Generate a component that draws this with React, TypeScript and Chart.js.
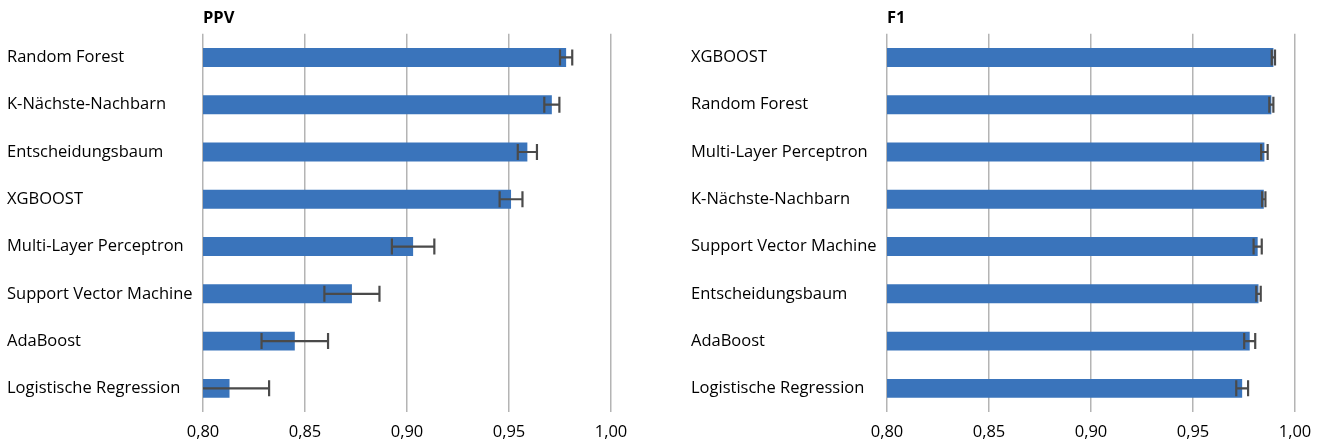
import React, { useEffect, useRef } from "react";
import { Chart, registerables } from "chart.js";

Chart.register(...registerables);

const ppvLabels = [
  "Random Forest",
  "K-Nächste-Nachbarn",
  "Entscheidungsbaum",
  "XGBOOST",
  "Multi-Layer Perceptron",
  "Support Vector Machine",
  "AdaBoost",
  "Logistische Regression",
];
const ppvValues = [0.978, 0.971, 0.959, 0.951, 0.903, 0.873, 0.845, 0.813];
const ppvErrors = [0.003, 0.0037, 0.0047, 0.0056, 0.0104, 0.0135, 0.0163, 0.0194];

const f1Labels = [
  "XGBOOST",
  "Random Forest",
  "Multi-Layer Perceptron",
  "K-Nächste-Nachbarn",
  "Support Vector Machine",
  "Entscheidungsbaum",
  "AdaBoost",
  "Logistische Regression",
];
const f1Values = [0.9894, 0.9884, 0.985, 0.9847, 0.9817, 0.9821, 0.9778, 0.9741];
const f1Errors = [0.0008, 0.001, 0.0016, 0.0008, 0.002, 0.0011, 0.0027, 0.0029];

const xTickValues = [0.8, 0.85, 0.9, 0.95, 1.0];

const FONT = "'Open Sans', 'Noto Sans', sans-serif";
const BAR_COLOR = "#3a74bb";

const errorBarPlugin = {
  id: "errorBars",
  afterDatasetsDraw(chart: any, _args: any, opts: any) {
    const errors: number[] = opts.errors || [];
    const meta = chart.getDatasetMeta(0);
    const xScale = chart.scales.x;
    const area = chart.chartArea;
    const ctx = chart.ctx;
    const values = chart.data.datasets[0].data as number[];
    ctx.save();
    ctx.beginPath();
    ctx.rect(area.left, area.top, area.right - area.left, area.bottom - area.top);
    ctx.clip();
    ctx.strokeStyle = "#4a4a4a";
    ctx.lineWidth = 2.2;
    meta.data.forEach((bar: any, i: number) => {
      const e = errors[i] || 0;
      const x1 = xScale.getPixelForValue(values[i] - e);
      const x2 = xScale.getPixelForValue(values[i] + e);
      const y = bar.y;
      const cap = 8;
      ctx.beginPath();
      ctx.moveTo(x1, y);
      ctx.lineTo(x2, y);
      ctx.moveTo(x1, y - cap);
      ctx.lineTo(x1, y + cap);
      ctx.moveTo(x2, y - cap);
      ctx.lineTo(x2, y + cap);
      ctx.stroke();
    });
    ctx.restore();
  },
};

function BarPanel(props: {
  title: string;
  labels: string[];
  values: number[];
  errors: number[];
  padLeft: number;
  padRight: number;
}) {
  const ref = useRef<HTMLCanvasElement | null>(null);
  useEffect(() => {
    if (!ref.current) return;
    const chart = new Chart(ref.current, {
      type: "bar",
      data: {
        labels: props.labels,
        datasets: [
          {
            data: props.values,
            backgroundColor: BAR_COLOR,
            borderWidth: 0,
            categoryPercentage: 1,
            barPercentage: 0.4,
          },
        ],
      },
      plugins: [errorBarPlugin],
      options: {
        indexAxis: "y",
        animation: false,
        responsive: true,
        maintainAspectRatio: false,
        layout: { padding: { left: props.padLeft, right: props.padRight, top: 0, bottom: 0 } },
        plugins: {
          legend: { display: false },
          tooltip: { enabled: false },
          title: {
            display: true,
            text: props.title,
            align: "start",
            fullSize: false,
            color: "#000",
            font: { family: FONT, size: 16.5, weight: "bold", lineHeight: 1.2 },
            padding: { top: 8, bottom: 6 },
          },
          errorBars: { errors: props.errors },
        } as any,
        scales: {
          x: {
            type: "linear",
            min: 0.8,
            max: 1.0,
            z: 1,
            afterBuildTicks: (scale: any) => {
              scale.ticks = xTickValues.map((v) => ({ value: v }));
            },
            afterFit: (scale: any) => {
              scale.height = 32;
            },
            ticks: {
              color: "#000",
              padding: 10,
              maxRotation: 0,
              font: { family: FONT, size: 16.5 },
              callback: (v: any) => Number(v).toFixed(2).replace(".", ","),
            },
            grid: {
              color: "#b4b4b4",
              lineWidth: 1.5,
              drawTicks: false,
            },
            border: { display: false },
          },
          y: {
            type: "category",
            afterFit: (scale: any) => {
              scale.width = 196;
            },
            ticks: {
              color: "#000",
              crossAlign: "far",
              font: { family: FONT, size: 16.5 },
            },
            grid: { display: false, drawTicks: false },
            border: { display: false },
          },
        },
      } as any,
    });
    return () => chart.destroy();
  }, []);
  return (
    <div style={{ position: "relative", width: 661, height: 444 }}>
      <canvas ref={ref} />
    </div>
  );
}

export default function App() {
  useEffect(() => {
    document.body.style.margin = "0";
  }, []);
  return (
    <div style={{ display: "flex", width: 1322, height: 444, background: "#fff" }}>
      <BarPanel title="PPV" labels={ppvLabels} values={ppvValues} errors={ppvErrors} padLeft={7} padRight={50} />
      <BarPanel title="F1" labels={f1Labels} values={f1Values} errors={f1Errors} padLeft={30} padRight={27} />
    </div>
  );
}
